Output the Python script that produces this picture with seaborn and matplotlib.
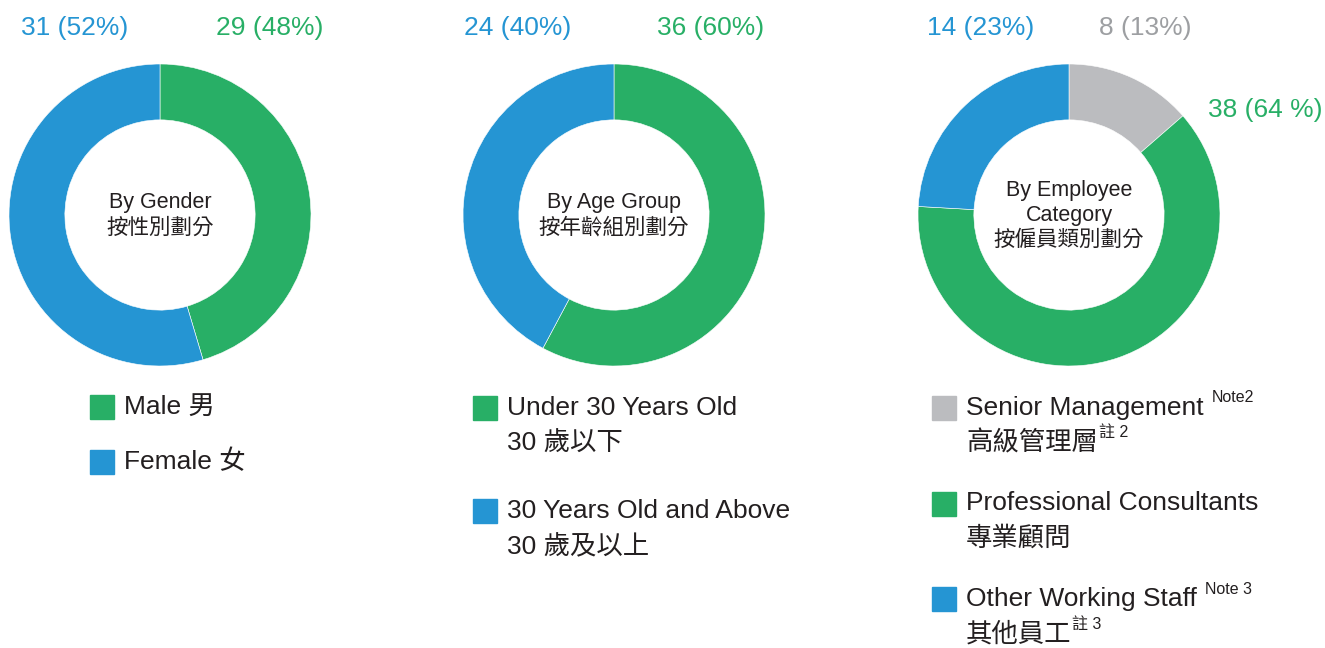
import matplotlib
matplotlib.use("Agg")
import matplotlib.pyplot as plt
from matplotlib.patches import Rectangle
import seaborn as sns

# data
gender_labels = ["Male 男", "Female 女"]
gender_counts = [29, 31]
gender_pct = [48, 52]
gender_share = [45.4, 54.6]          # arc sizes as drawn in the reference

age_labels = [("Under 30 Years Old", "30 歲以下"), ("30 Years Old and Above", "30 歲及以上")]
age_counts = [36, 24]
age_pct = [60, 40]
age_share = [57.8, 42.2]

cat_labels = [("Senior Management", "高級管理層"),
              ("Professional Consultants", "專業顧問"),
              ("Other Working Staff", "其他員工")]
cat_notes = [("Note2", "註 2"), (None, None), ("Note 3", "註 3")]
cat_counts = [8, 38, 14]
cat_pct = [13, 64, 23]
cat_share = [13.6, 62.3, 24.1]

GREEN, BLUE, GREY = "#28AF66", "#2595D3", "#BBBCBF"
DARK = "#231F20"

sns.set_theme(style="white")
plt.rcParams["font.family"] = ["Liberation Sans", "Noto Sans CJK TC", "DejaVu Sans"]

W, H = 1325, 648
FS = 19
fig = plt.figure(figsize=(W / 100, H / 100), dpi=100)


def txt(x, y, s, size=FS, color=DARK, ha="left", va="center"):
    # place text at pixel coords (origin top-left)
    return fig.text(x / W, 1 - y / H, s, fontsize=size, color=color, ha=ha, va=va)


def donut(cx, cy, share, colors, center_lines):
    r = 151
    ax = fig.add_axes([(cx - r) / W, (H - cy - r) / H, 2 * r / W, 2 * r / H])
    ax.pie(share, colors=colors, startangle=90, counterclock=False, radius=1,
           wedgeprops=dict(width=0.37, linewidth=0.4, edgecolor="white"))
    ax.set_xlim(-1, 1)
    ax.set_ylim(-1, 1)
    ax.set_axis_off()
    n = len(center_lines)
    y0 = cy + 13 - 12.5 * n
    for i, line in enumerate(center_lines):
        txt(cx, y0 + 25 * i, line, size=15.5, ha="center")
    return ax


def swatch(x, y, color):
    fig.patches.append(Rectangle((x / W, 1 - (y + 12) / H), 24 / W, 24 / H,
                                 color=color, transform=fig.transFigure, figure=fig))


# chart 1 - gender
pal1 = sns.color_palette([GREEN, BLUE])
donut(160, 215, gender_share, pal1, ["By Gender", "按性別劃分"])
txt(75, 28, f"{gender_counts[1]} ({gender_pct[1]}%)", color=BLUE, ha="center")
txt(270, 28, f"{gender_counts[0]} ({gender_pct[0]}%)", color=GREEN, ha="center")
for i, (lab, c) in enumerate(zip(gender_labels, pal1)):
    swatch(90, 407 + 55 * i, c)
    txt(124, 407 + 55 * i, lab)

# chart 2 - age group
pal2 = sns.color_palette([GREEN, BLUE])
donut(614, 215, age_share, pal2, ["By Age Group", "按年齡組別劃分"])
txt(518, 28, f"{age_counts[1]} ({age_pct[1]}%)", color=BLUE, ha="center")
txt(711, 28, f"{age_counts[0]} ({age_pct[0]}%)", color=GREEN, ha="center")
for i, ((en, zh), c) in enumerate(zip(age_labels, pal2)):
    y = 408 + 103 * i
    swatch(473, y, c)
    txt(507, y, en)
    txt(507, y + 36, zh)

# chart 3 - employee category
pal3 = sns.color_palette([GREY, GREEN, BLUE])
donut(1069, 215, cat_share, pal3, ["By Employee", "Category", "按僱員類別劃分"])
txt(981, 28, f"{cat_counts[2]} ({cat_pct[2]}%)", color=BLUE, ha="center")
txt(1145, 28, f"{cat_counts[0]} ({cat_pct[0]}%)", color="#9D9FA2", ha="center")
txt(1265, 110, f"{cat_counts[1]} ({cat_pct[1]} %)", color=GREEN, ha="center")
sups = []
for i, ((en, zh), (n_en, n_zh), c) in enumerate(zip(cat_labels, cat_notes, pal3)):
    y = 408 + 95.5 * i
    swatch(932, y, c)
    t1 = txt(966, y, en)
    t2 = txt(966, y + 35, zh)
    if n_en:
        sups.append((t1, n_en, y - 10, 8))
        sups.append((t2, n_zh, y + 25, 1))

fig.canvas.draw()
rend = fig.canvas.get_renderer()
for t, s, y, gap in sups:
    bb = t.get_window_extent(rend)
    txt(bb.x1 + gap, y, s, size=11.5)

fig.savefig("out.png", dpi=100, facecolor="white")
